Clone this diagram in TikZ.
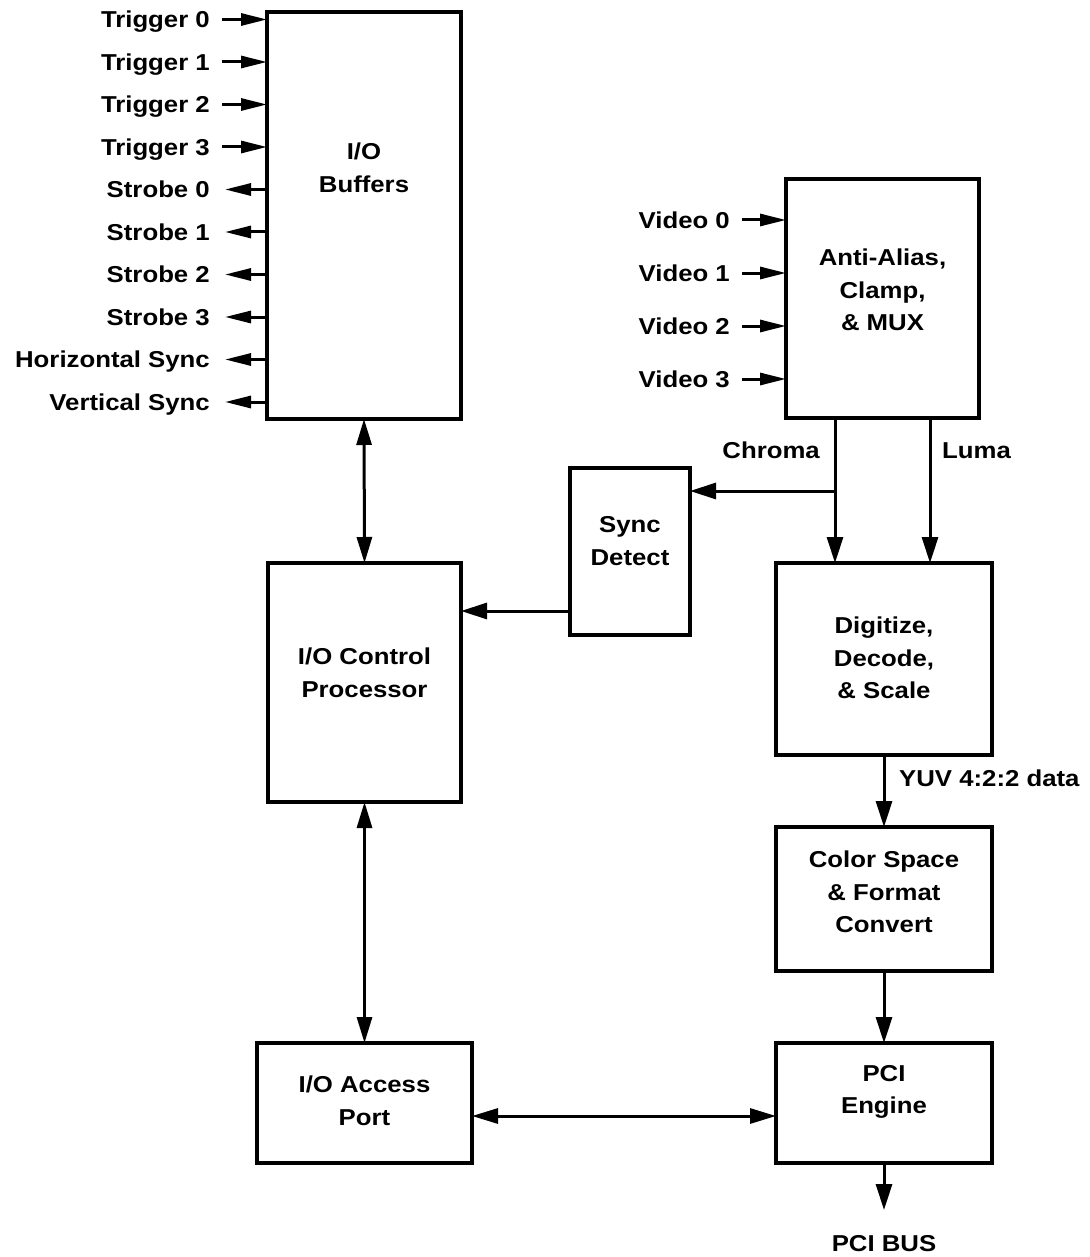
\documentclass[tikz,border=0pt]{standalone}
\usepackage{fontspec}
\newfontfamily\diafont{Liberation Sans}[FakeStretch=1.12]
\usetikzlibrary{arrows.meta,calc}
\tikzset{
  blk/.style={draw, line width=4pt, inner sep=0pt, outer sep=0pt},
  btxt/.style={font={\diafont\bfseries\fontsize{23}{32.5}\selectfont}, align=center, inner sep=0pt},
  sig/.style={font={\diafont\bfseries\fontsize{23}{32.5}\selectfont}, inner sep=0pt, text height=16.5pt, text depth=0pt},
  arr/.style={line width=3pt, -{Triangle[length=26pt,width=16pt]}},
  inarr/.style={line width=3pt, -{Triangle[length=26pt,width=12pt]}},
  dbl/.style={line width=3pt, {Triangle[length=26pt,width=15pt]}-{Triangle[length=26pt,width=15pt]}},
}
\begin{document}
\begin{tikzpicture}[x=1pt,y=-1pt]
\useasboundingbox (0,0) rectangle (1089,1257);

% boxes
\node[blk, minimum width=194pt, minimum height=407pt] (iob) at (364,215.5) {};
\node[blk, minimum width=193pt, minimum height=239pt] (ioc) at (364.5,682.5) {};
\node[blk, minimum width=215pt, minimum height=120pt] (iap) at (364.5,1103) {};
\node[blk, minimum width=193pt, minimum height=239pt] (aa) at (882.5,298.5) {};
\node[blk, minimum width=120pt, minimum height=167pt] (sd) at (630,551.5) {};
\node[blk, minimum width=216pt, minimum height=192pt] (dig) at (884,659) {};
\node[blk, minimum width=216pt, minimum height=144pt] (csc) at (884,899) {};
\node[blk, minimum width=216pt, minimum height=120pt] (pci) at (884,1103) {};

% box texts
\node[btxt] (iobt) at (364,168) {I/O\\Buffers};
\node[btxt] (ioct) at (364.5,673) {I/O Control\\Processor};
\node[btxt] (iapt) at (364.5,1101) {I/O Access\\Port};
\node[btxt] (aat) at (882.5,290) {Anti-Alias,\\Clamp,\\\& MUX};
\node[btxt] (sdt) at (630,541) {Sync\\Detect};
\node[btxt] (digt) at (884,658) {Digitize,\\Decode,\\\& Scale};
\node[btxt] (csct) at (884,892) {Color Space\\\& Format\\Convert};
\node[btxt] (pcit) at (884,1092) {PCI\\Engine};

% trigger inputs
\foreach \txt/\nm/\yy in {Trigger 0/t0/19.5, Trigger 1/t1/62, Trigger 2/t2/104.5, Trigger 3/t3/147} {
  \node[sig, anchor=east] (\nm) at (210,\yy) {\txt};
  \draw[inarr] ([xshift=12pt]\nm.east) -- (\nm.east -| iob.west);
}
% strobe / sync outputs
\foreach \txt/\nm/\yy in {Strobe 0/s0/189.5, Strobe 1/s1/232, Strobe 2/s2/274.5, Strobe 3/s3/317, Horizontal Sync/hs/359.5, Vertical Sync/vs/402} {
  \node[sig, anchor=east] (\nm) at (210,\yy) {\txt};
  \draw[inarr] (\nm.east -| iob.west) -- ([xshift=15pt]\nm.east);
}
% video inputs
\foreach \txt/\nm/\yy in {Video 0/v0/220, Video 1/v1/273, Video 2/v2/326, Video 3/v3/379} {
  \node[sig, anchor=east] (\nm) at (730,\yy) {\txt};
  \draw[inarr] ([xshift=12pt]\nm.east) -- (\nm.east -| aa.west);
}

% chroma / luma
\coordinate (cx) at (835,491);
\coordinate (lx) at (930,491);
\draw[arr] (aa.south -| cx) -- (dig.north -| cx);
\draw[arr] (aa.south -| lx) -- (dig.north -| lx);
\draw[arr] (cx) -- (sd.east |- cx);
\node[sig, anchor=east] (chroma) at (820,450) {Chroma};
\node[sig, anchor=west] (luma) at (942,450) {Luma};

% sync detect to control processor
\coordinate (syncy) at (0,611);
\draw[arr] (sd.west |- syncy) -- (ioc.east |- syncy);

% left column double arrows
\draw[dbl] (iob.south) -- (ioc.north);
\draw[dbl] (ioc.south) -- (iap.north);

% right column chain
\draw[arr] (dig.south) -- (csc.north);
\node[sig, anchor=west] (yuv) at (899,778) {YUV 4:2:2 data};
\draw[arr] (csc.south) -- (pci.north);

% bus between access port and PCI engine
\coordinate (busy) at (0,1116);
\draw[dbl] (iap.east |- busy) -- (pci.west |- busy);

% PCI bus
\coordinate (pcib) at (884,1210);
\draw[arr] (pci.south) -- (pcib);
\node[sig] (pcibus) at (884,1243) {PCI BUS};
\end{tikzpicture}
\end{document}
